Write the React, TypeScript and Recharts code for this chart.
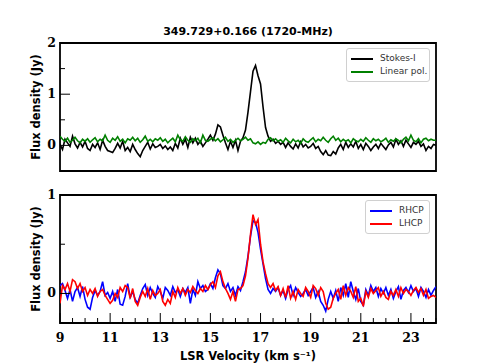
import React from "react";
import { LineChart, Line, XAxis, YAxis, ReferenceArea } from "recharts";

// velocity channels (km/s), 0.1 km/s spacing from 9 to 24
const velocities: number[] = Array.from({ length: 151 }, (_, i) => Math.round((9 + i * 0.1) * 10) / 10);

const stokesI = [
  0.02, -0.08, 0.12, 0.05, -0.02, 0.18, 0.03, -0.05, 0.06, -0.03,
  0.08, -0.06, -0.1, 0.02, -0.04, 0.05, -0.08, 0.1, -0.02, -0.1,
  -0.12, -0.14, -0.06, 0.04, -0.05, 0.08, -0.1, -0.04, -0.12, 0.02,
  -0.08, -0.16, -0.22, -0.1, -0.02, 0.06, -0.07, 0.03, -0.04, -0.02,
  0.02, -0.06, -0.01, -0.08, -0.03, -0.1, 0.04, -0.05, 0.14, 0.02,
  0.12, -0.04, 0.16, 0.05, 0.14, 0.02, 0.08, -0.02, 0.05, 0.12,
  0.2, 0.1, 0.22, 0.4, 0.36, 0.2, 0.05, -0.08, 0.08, -0.04,
  0.1, -0.1, 0.08, 0.15, 0.3, 0.65, 1.05, 1.45, 1.56, 1.36,
  1.2, 0.75, 0.35, 0.18, 0.08, 0.12, 0.04, 0.08, 0.02, 0.06,
  -0.04, 0.05, -0.02, -0.07, 0.03, -0.05, 0.07, -0.03, 0.02, -0.05,
  -0.02, 0.04, -0.06, -0.02, -0.12, -0.18, -0.1, -0.19, -0.2, -0.12,
  -0.17, -0.05, 0.02, -0.08, 0.06, -0.04, 0.03, -0.03, 0.08, -0.06,
  0.02, -0.08, 0.04, -0.02, -0.1, -0.03, 0.02, -0.06, 0.04, -0.02,
  -0.08, 0.01, 0.06, -0.03, 0.12, 0.02, 0.09, -0.02, 0.1, 0.03,
  -0.04, 0.06, 0.02, 0.08, -0.02, 0.03, -0.1, -0.02, -0.06, 0.02,
  0.0,
];

const linearPol = [
  0.18, 0.12, 0.08, 0.14, 0.06, 0.1, 0.16, 0.09, 0.05, 0.12,
  0.08, 0.13, 0.06, 0.11, 0.15, 0.07, 0.12, 0.09, 0.2, 0.1,
  0.06, 0.14, 0.1, 0.17, 0.08, 0.12, 0.05, 0.13, 0.1, 0.16,
  0.09, 0.14, 0.06, 0.11, 0.18, 0.08, 0.12, 0.07, 0.13, 0.1,
  0.15, 0.08, 0.12, 0.05, 0.1, 0.14, 0.07, 0.2, 0.11, 0.08,
  0.17, 0.1, 0.06, 0.13, 0.09, 0.14, 0.05, 0.2, 0.1, 0.08,
  0.12, 0.15, 0.09, 0.13, 0.07, 0.11, 0.16, 0.08, 0.12, 0.06,
  0.1, 0.14, 0.09, 0.12, 0.16, 0.1, 0.13, 0.05, 0.03, 0.07,
  0.02, 0.06, 0.04, 0.12, 0.15, 0.09, 0.13, 0.08, 0.11, 0.06,
  0.14, 0.09, 0.05, 0.12, 0.07, 0.1, 0.04, 0.13, 0.08, 0.06,
  0.11, 0.15, 0.07, 0.12, 0.09, 0.16, 0.1, 0.06, 0.13, 0.18,
  0.1, 0.14, 0.07, 0.12, 0.08, 0.11, 0.05, 0.13, 0.09, 0.07,
  0.12, 0.08, 0.15, 0.1, 0.06, 0.13, 0.09, 0.12, 0.07, 0.1,
  0.14, 0.06, 0.11, 0.08, 0.13, 0.1, 0.05, 0.12, 0.16, 0.09,
  0.2, 0.1, 0.07, 0.13, 0.05, 0.12, 0.14, 0.09, 0.12, 0.1,
  0.1,
];

const rhcp = [
  0.08, 0.1, 0.03, -0.05, 0.04, -0.08, 0.02, 0.06, -0.03, 0.07,
  -0.06, -0.14, -0.16, -0.04, 0.03, -0.02, 0.02, 0.12, -0.02, 0.01,
  -0.05, 0.02, -0.08, 0.04, -0.11, -0.12, -0.03, 0.1, -0.04, 0.02,
  -0.06, -0.1, -0.02, 0.05, 0.09, -0.02, 0.06, 0.0, -0.04, 0.07,
  0.02, -0.05, 0.06, 0.03, -0.02, 0.07, 0.01, 0.04, -0.03, 0.05,
  0.01, 0.06, -0.1, 0.04, -0.02, 0.12, 0.05, 0.08, 0.02, 0.04,
  0.1, 0.05, 0.16, 0.24, 0.2, 0.08, 0.05, 0.1, 0.02, 0.06,
  -0.02, 0.07, 0.03, 0.12, 0.22, 0.38, 0.58, 0.74, 0.72, 0.62,
  0.45, 0.3, 0.15, 0.04, 0.0, 0.05, 0.02, 0.06, -0.02, 0.03,
  -0.05, 0.04, 0.08, -0.02, 0.06, 0.01, -0.03, 0.0, 0.04, -0.02,
  0.02, 0.06, -0.04, 0.02, -0.08, -0.12, -0.18, -0.06, 0.02, -0.05,
  0.03, -0.08, 0.06, -0.02, 0.1, -0.04, 0.12, 0.02, -0.06, 0.05,
  -0.08, -0.12, 0.04, -0.02, 0.08, 0.02, 0.06, -0.03, 0.05, 0.0,
  0.06, -0.02, 0.04, -0.05, 0.02, 0.07, -0.06, 0.03, 0.06, 0.01,
  0.08, 0.02, 0.05, -0.03, 0.06, 0.02, -0.04, 0.04, -0.02, 0.03,
  0.07,
];

const lhcp = [
  -0.1, 0.08, 0.04, 0.1, 0.02, 0.14, 0.12, 0.05, 0.1, 0.02,
  0.06, -0.02, 0.04, 0.0, 0.05, -0.03, 0.02, 0.04, -0.02, -0.06,
  -0.1, -0.07, 0.0, -0.04, 0.06, 0.02, 0.08, 0.06, -0.05, 0.05,
  -0.08, -0.12, -0.04, 0.02, -0.03, 0.05, -0.06, 0.03, -0.02, 0.0,
  0.04, -0.08, -0.12, -0.06, -0.1, 0.02, -0.04, 0.06, 0.0, 0.05,
  -0.02, 0.04, 0.01, 0.07, 0.03, 0.0, 0.05, 0.02, 0.08, 0.04,
  0.09, 0.12, 0.06, 0.18, 0.22, 0.12, 0.05, 0.0, -0.06, 0.02,
  -0.08, 0.04, 0.05, 0.08, 0.18, 0.36, 0.6, 0.8, 0.7, 0.75,
  0.5, 0.32, 0.2, 0.1, 0.06, 0.1, 0.03, 0.07, -0.02, 0.05,
  -0.04, 0.08, -0.05, 0.02, -0.06, 0.04, 0.0, -0.03, 0.06, 0.02,
  -0.04, 0.08, 0.05, -0.02, 0.06, 0.02, -0.1, -0.16, -0.14, -0.05,
  0.0, 0.04, -0.06, 0.08, -0.02, 0.06, 0.02, -0.04, 0.07, -0.08,
  -0.05, -0.13, 0.02, -0.04, 0.05, 0.0, 0.03, 0.06, -0.03, 0.02,
  -0.04, -0.06, 0.02, -0.02, 0.04, -0.03, 0.06, 0.0, 0.04, 0.02,
  -0.02, 0.03, 0.06, 0.01, 0.05, -0.02, 0.04, -0.05, -0.03, -0.02,
  -0.04,
];

const xTicks = [9, 9.5, 10, 10.5, 11, 11.5, 12, 12.5, 13, 13.5, 14, 14.5, 15, 15.5, 16, 16.5, 17, 17.5, 18, 18.5, 19, 19.5, 20, 20.5, 21, 21.5, 22, 22.5, 23, 23.5, 24];
const xLabels = [9, 11, 13, 15, 17, 19, 21, 23];
const topYTicks = [-0.5, 0, 0.5, 1, 1.5, 2];
const topYLabels = [0, 1, 2];
const botYTicks = [0, 0.5, 1];
const botYLabels = [0, 1];

const topData = velocities.map((v, i) => ({ v, stokes: stokesI[i], lin: linearPol[i] }));
const botData = velocities.map((v, i) => ({ v, r: rhcp[i], l: lhcp[i] }));

const tickFont = { fontFamily: "DejaVu Serif", fontWeight: "bold", fontSize: 12.5, fill: "#000" } as const;
const labelFont = { fontFamily: "DejaVu Sans", fontWeight: "bold", fontSize: 11.5, fill: "#000" } as const;

const XTick = (showLabel: boolean) => (props: any) => {
  const { x, y, payload } = props;
  const major = xLabels.includes(payload.value);
  return (
    <g>
      <line x1={x} x2={x} y1={y} y2={y - (major ? 10 : 5)} stroke="#000" strokeWidth={1} />
      {showLabel && major && (
        <text x={x} y={y + 19} textAnchor="middle" {...tickFont}>{payload.value}</text>
      )}
    </g>
  );
};

const YTick = (labels: number[]) => (props: any) => {
  const { x, y, payload } = props;
  const major = labels.includes(payload.value);
  return (
    <g>
      <line x1={x} x2={x + (major ? 10 : 5)} y1={y} y2={y} stroke="#000" strokeWidth={1} />
      {major && (
        <text x={x - 4} y={y + 4} textAnchor="end" {...tickFont}>{payload.value}</text>
      )}
    </g>
  );
};

const LegendBox = ({ items, left, top, width }: { items: { name: string; color: string }[]; left: number; top: number; width: number }) => (
  <div style={{ position: "absolute", left, top, width, border: "1px solid #d0d0d0", borderRadius: 3, background: "#fff", padding: "3px 0 3px 0", boxSizing: "border-box" }}>
    {items.map((it) => (
      <div key={it.name} style={{ display: "flex", alignItems: "center", height: 13, whiteSpace: "nowrap" }}>
        <div style={{ width: 22, height: 2, background: it.color, marginLeft: 4, marginRight: 7, flexShrink: 0 }} />
        <span style={{ fontFamily: "DejaVu Sans", fontSize: 9, color: "#333", lineHeight: "13px", whiteSpace: "nowrap" }}>{it.name}</span>
      </div>
    ))}
  </div>
);

export default function App() {
  return (
    <div style={{ position: "absolute", left: 0, top: 0, width: 484, height: 363, background: "#fff" }}>
      <div style={{ position: "absolute", left: 0, top: 25, width: 484, textAlign: "center", fontFamily: "DejaVu Sans", fontWeight: "bold", fontSize: 11, paddingLeft: 12, boxSizing: "border-box" }}>
        349.729+0.166 (1720-MHz)
      </div>

      {/* top panel: Stokes-I and linear polarisation */}
      <div style={{ position: "absolute", left: 0, top: 0 }}>
        <LineChart width={484} height={180} data={topData} margin={{ top: 43, right: 48, bottom: 9, left: 0 }}>
          <XAxis dataKey="v" type="number" domain={[9, 24]} ticks={xTicks} interval={0} height={0}
            axisLine={false} tickLine={false} tickSize={0} tickMargin={0} tick={XTick(false)} allowDataOverflow />
          <YAxis type="number" domain={[-0.5, 2]} ticks={topYTicks} interval={0} width={60}
            axisLine={false} tickLine={false} tickSize={0} tickMargin={0} tick={YTick(topYLabels)} allowDataOverflow
            label={{ value: "Flux density (Jy)", angle: -90, position: "insideLeft", offset: 36, style: { ...labelFont, textAnchor: "middle" } }} />
          <ReferenceArea x1={9} x2={24} y1={-0.5} y2={2} fill="none" stroke="#000" strokeWidth={1.8} ifOverflow="visible" />
          <Line dataKey="stokes" name="Stokes-I" stroke="#000" strokeWidth={1.6} dot={false} isAnimationActive={false} />
          <Line dataKey="lin" name="Linear pol." stroke="#008000" strokeWidth={1.6} dot={false} isAnimationActive={false} />
        </LineChart>
      </div>
      <LegendBox left={346} top={48} width={84} items={[{ name: "Stokes-I", color: "#000" }, { name: "Linear pol.", color: "#008000" }]} />

      {/* bottom panel: circular polarisations */}
      <div style={{ position: "absolute", left: 0, top: 180 }}>
        <LineChart width={484} height={183} data={botData} margin={{ top: 15, right: 48, bottom: 0, left: 0 }}>
          <XAxis dataKey="v" type="number" domain={[9, 24]} ticks={xTicks} interval={0} height={40}
            axisLine={false} tickLine={false} tickSize={0} tickMargin={0} tick={XTick(true)} allowDataOverflow
            label={{ value: "LSR Velocity (km s\u207B\u00B9)", position: "insideBottom", offset: 3, style: labelFont }} />
          <YAxis type="number" domain={[-0.3, 1]} ticks={botYTicks} interval={0} width={60}
            axisLine={false} tickLine={false} tickSize={0} tickMargin={0} tick={YTick(botYLabels)} allowDataOverflow
            label={{ value: "Flux density (Jy)", angle: -90, position: "insideLeft", offset: 36, style: { ...labelFont, textAnchor: "middle" } }} />
          <ReferenceArea x1={9} x2={24} y1={-0.3} y2={1} fill="none" stroke="#000" strokeWidth={1.8} ifOverflow="visible" />
          <Line dataKey="r" name="RHCP" stroke="#0000ff" strokeWidth={1.6} dot={false} isAnimationActive={false} />
          <Line dataKey="l" name="LHCP" stroke="#ff0000" strokeWidth={1.6} dot={false} isAnimationActive={false} />
        </LineChart>
      </div>
      <LegendBox left={365} top={200} width={65} items={[{ name: "RHCP", color: "#0000ff" }, { name: "LHCP", color: "#ff0000" }]} />
    </div>
  );
}
